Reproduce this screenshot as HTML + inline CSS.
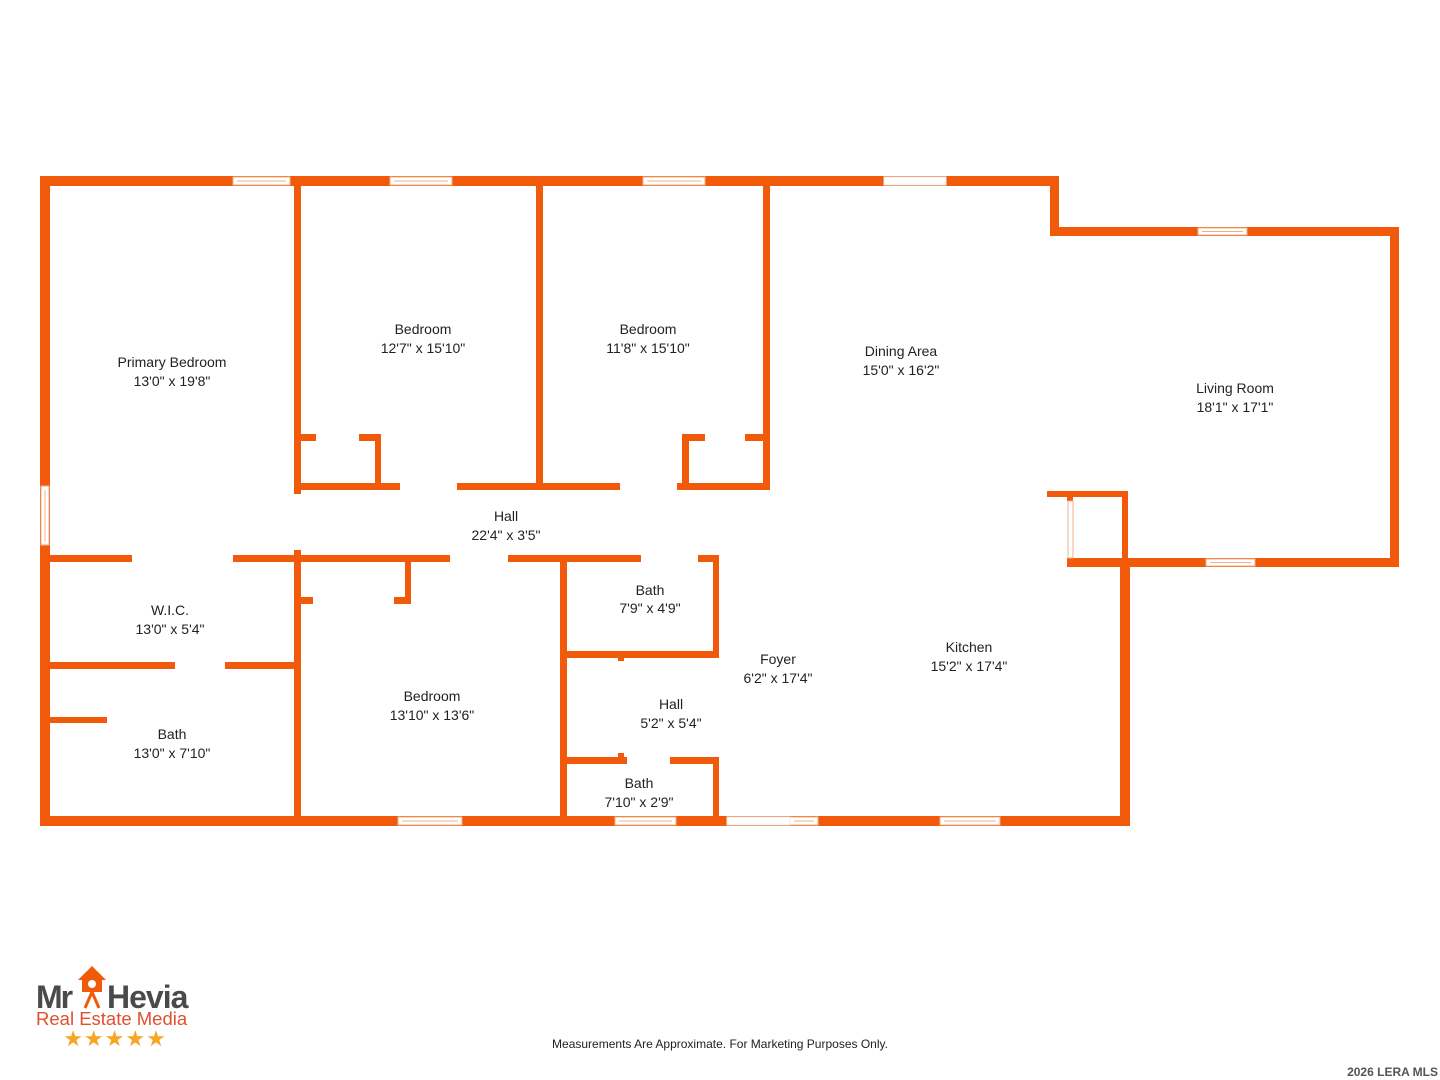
<!DOCTYPE html>
<html><head><meta charset="utf-8"><style>
html,body{margin:0;padding:0;background:#fff;width:1440px;height:1080px;overflow:hidden}
svg{display:block}
text{font-family:"Liberation Sans",sans-serif;fill:#222}
</style></head><body>
<svg width="1440" height="1080" viewBox="0 0 1440 1080" xmlns="http://www.w3.org/2000/svg">
<g fill="#F05A0A">
<rect x="40" y="176" width="1019" height="10"/>
<rect x="40" y="176" width="10" height="650"/>
<rect x="40" y="816" width="1090" height="10"/>
<rect x="1120" y="560" width="10" height="266"/>
<rect x="1050" y="176" width="9" height="60"/>
<rect x="1050" y="227" width="349" height="9"/>
<rect x="1390" y="227" width="9" height="340"/>
<rect x="1067" y="558" width="332" height="9"/>
<rect x="1047" y="491" width="81" height="6"/>
<rect x="1122" y="491" width="6" height="76"/>
<rect x="1067" y="491" width="6" height="10"/>
<rect x="294" y="176" width="7" height="318"/>
<rect x="294" y="550" width="7" height="270"/>
<rect x="536" y="176" width="7" height="314"/>
<rect x="763" y="176" width="7" height="314"/>
<rect x="294" y="483" width="106" height="7"/>
<rect x="457" y="483" width="163" height="7"/>
<rect x="677" y="483" width="93" height="7"/>
<rect x="300" y="434" width="16" height="7"/>
<rect x="359" y="434" width="22" height="7"/>
<rect x="375" y="434" width="6" height="56"/>
<rect x="682" y="434" width="7" height="56"/>
<rect x="682" y="434" width="23" height="7"/>
<rect x="745" y="434" width="25" height="7"/>
<rect x="40" y="555" width="92" height="7"/>
<rect x="233" y="555" width="217" height="7"/>
<rect x="508" y="555" width="133" height="7"/>
<rect x="698" y="555" width="21" height="7"/>
<rect x="405" y="555" width="6" height="49"/>
<rect x="300" y="597" width="13" height="7"/>
<rect x="394" y="597" width="17" height="7"/>
<rect x="40" y="662" width="135" height="7"/>
<rect x="225" y="662" width="75" height="7"/>
<rect x="49" y="717" width="58" height="6"/>
<rect x="560" y="555" width="7" height="270"/>
<rect x="713" y="555" width="6" height="102"/>
<rect x="560" y="651" width="159" height="7"/>
<rect x="618" y="651" width="6" height="10"/>
<rect x="560" y="757" width="67" height="7"/>
<rect x="670" y="757" width="49" height="7"/>
<rect x="618" y="753" width="6" height="10"/>
<rect x="713" y="757" width="6" height="68"/>
</g>
<g fill="#fff" stroke="#f3b08a" stroke-width="1">
<rect x="233" y="177" width="57" height="8"/><line x1="237" y1="181" x2="286" y2="181"/>
<rect x="390" y="177" width="62" height="8"/><line x1="394" y1="181" x2="448" y2="181"/>
<rect x="643" y="177" width="62" height="8"/><line x1="647" y1="181" x2="701" y2="181"/>
<rect x="1198" y="228" width="49" height="7"/><line x1="1202" y1="231.5" x2="1243" y2="231.5"/>
<rect x="1206" y="559" width="49" height="7"/><line x1="1210" y1="562.5" x2="1251" y2="562.5"/>
<rect x="398" y="817" width="64" height="8"/><line x1="402" y1="821" x2="458" y2="821"/>
<rect x="615" y="817" width="61" height="8"/><line x1="619" y1="821" x2="672" y2="821"/>
<rect x="790" y="817" width="28" height="8"/><line x1="794" y1="821" x2="814" y2="821"/>
<rect x="940" y="817" width="60" height="8"/><line x1="944" y1="821" x2="996" y2="821"/>
<rect x="41" y="486" width="8" height="59"/><line x1="45" y1="490" x2="45" y2="541"/>
<rect x="1068" y="501" width="5" height="57"/>
</g>
<g fill="#fff" stroke="#eee" stroke-width="1">
<rect x="884" y="177" width="62" height="8"/>
<rect x="727" y="817" width="63" height="8"/>
</g>
<g font-size="14" text-anchor="middle">
<text x="172" y="367">Primary Bedroom</text><text x="172" y="386">13'0" x 19'8"</text>
<text x="423" y="334">Bedroom</text><text x="423" y="353">12'7" x 15'10"</text>
<text x="648" y="334">Bedroom</text><text x="648" y="353">11'8" x 15'10"</text>
<text x="901" y="356">Dining Area</text><text x="901" y="375">15'0" x 16'2"</text>
<text x="1235" y="393">Living Room</text><text x="1235" y="412">18'1" x 17'1"</text>
<text x="506" y="521">Hall</text><text x="506" y="540">22'4" x 3'5"</text>
<text x="170" y="615">W.I.C.</text><text x="170" y="634">13'0" x 5'4"</text>
<text x="172" y="739">Bath</text><text x="172" y="758">13'0" x 7'10"</text>
<text x="432" y="701">Bedroom</text><text x="432" y="720">13'10" x 13'6"</text>
<text x="650" y="595">Bath</text><text x="650" y="613">7'9" x 4'9"</text>
<text x="671" y="709">Hall</text><text x="671" y="728">5'2" x 5'4"</text>
<text x="639" y="788">Bath</text><text x="639" y="807">7'10" x 2'9"</text>
<text x="778" y="664">Foyer</text><text x="778" y="683">6'2" x 17'4"</text>
<text x="969" y="652">Kitchen</text><text x="969" y="671">15'2" x 17'4"</text>
</g>
<text x="720" y="1048" font-size="12" text-anchor="middle">Measurements Are Approximate. For Marketing Purposes Only.</text>
<text x="1438" y="1076" font-size="12" font-weight="bold" text-anchor="end" style="fill:#555">2026 LERA MLS</text>
<g>
<path d="M78 980 L92 966 L106 980 Z" fill="#F05A0A"/>
<rect x="82" y="978" width="20" height="14" fill="#F05A0A"/>
<circle cx="92" cy="984" r="4" fill="#fff"/>
<path d="M92 992 L85 1008 M92 992 L99 1008" stroke="#F05A0A" stroke-width="3"/>
<text x="36" y="1008" font-size="32" font-weight="bold" style="fill:#4a4a4a" letter-spacing="-2">Mr</text>
<text x="107" y="1008" font-size="32" font-weight="bold" style="fill:#4a4a4a" letter-spacing="-1">Hevia</text>
<text x="36" y="1025" font-size="18.5" style="fill:#e05030">Real Estate Media</text>
<text x="115" y="1046" font-size="22" text-anchor="middle" style="fill:#f5a623" letter-spacing="1">★★★★★</text>
</g>
</svg>
</body></html>
